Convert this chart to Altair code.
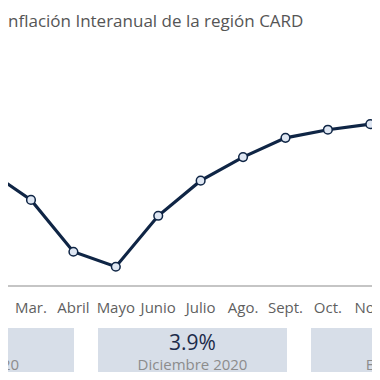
import altair as alt
import pandas as pd

# ---- data ----
month_names = ["Febr.", "Mar.", "Abril", "Mayo", "Junio", "Julio",
               "Ago.", "Sept.", "Oct.", "Nov.", "Dic."]
months = [2, 3, 4, 5, 6, 7, 8, 9, 10, 11, 12]
inflation = [2.69, 2.01, 0.80, 0.45, 1.64, 2.46, 3.01, 3.46, 3.65, 3.78, 3.90]

box_labels = ["Enero 2020", "Diciembre 2020", "Enero 2021"]
box_values = ["2.9%", "3.9%", "4.1%"]

title_text = ["nflación Interanual de la región CARD"]

NAVY = "#0f2545"
FONT = "Open Sans"

line_df = pd.DataFrame({"m": months, "v": inflation, "name": month_names})
box_df = pd.DataFrame({"cat": box_labels, "val": box_values})
title_df = pd.DataFrame({"t": title_text})

xs = alt.Scale(domain=[2.458, 11.040], nice=False, zero=False)
ys = alt.Scale(domain=[-2.008, 5.745], nice=False, zero=False)

base = alt.Chart(line_df)

baseline = base.mark_rule(color="#c4c4c4", strokeWidth=1.5).encode(
    y=alt.Y("z:Q", scale=ys, axis=None),
).transform_calculate(z="0")

line = base.mark_line(color=NAVY, strokeWidth=3.2, clip=True).encode(
    x=alt.X("m:Q", scale=xs, axis=None),
    y=alt.Y("v:Q", scale=ys, axis=None),
)

points = base.mark_point(filled=True, fill="#dfe7f3", stroke=NAVY, strokeWidth=1.5,
                         size=75, opacity=1, clip=True).encode(
    x=alt.X("m:Q", scale=xs, axis=None),
    y=alt.Y("v:Q", scale=ys, axis=None),
)

mlabels = base.mark_text(color="#5f5f5f", fontSize=15, font=FONT,
                         baseline="alphabetic").encode(
    x=alt.X("m:Q", scale=xs, axis=None),
    y=alt.value(273),
    text="name:N",
)

title = alt.Chart(title_df).mark_text(color="#555555", fontSize=17, font=FONT,
                                      align="left", baseline="alphabetic").encode(
    x=alt.value(0),
    y=alt.value(-13),
    text="t:N",
)

series = alt.layer(baseline, line, points, mlabels, title)

bs = alt.Scale(type="band", domain=box_labels, range=[-123, 492],
               paddingInner=0.1127, paddingOuter=0)

boxes = alt.Chart(box_df).mark_rect(color="#d7dee8").encode(
    x=alt.X("cat:N", scale=bs, axis=None),
    y=alt.value(288),
    y2=alt.value(340),
)

vals = alt.Chart(box_df).mark_text(color="#1c2b4a", fontSize=21, font=FONT,
                                   baseline="alphabetic").encode(
    x=alt.X("cat:N", scale=bs, axis=None),
    y=alt.value(310),
    text="val:N",
)

labs = alt.Chart(box_df).mark_text(color="#8c8c8c", fontSize=15, font=FONT,
                                   baseline="alphabetic").encode(
    x=alt.X("cat:N", scale=bs, axis=None),
    y=alt.value(330),
    text="cat:N",
)

chart = alt.layer(series, boxes, vals, labs).resolve_scale(
    x="independent", y="independent"
).properties(
    width=364, height=332,
    padding={"top": 32, "left": 0, "right": 0, "bottom": 0},
    autosize=alt.AutoSizeParams(type="none"),
).configure_view(stroke=None)

chart.save("out.html", embed_options={"renderer": "svg", "actions": False})
